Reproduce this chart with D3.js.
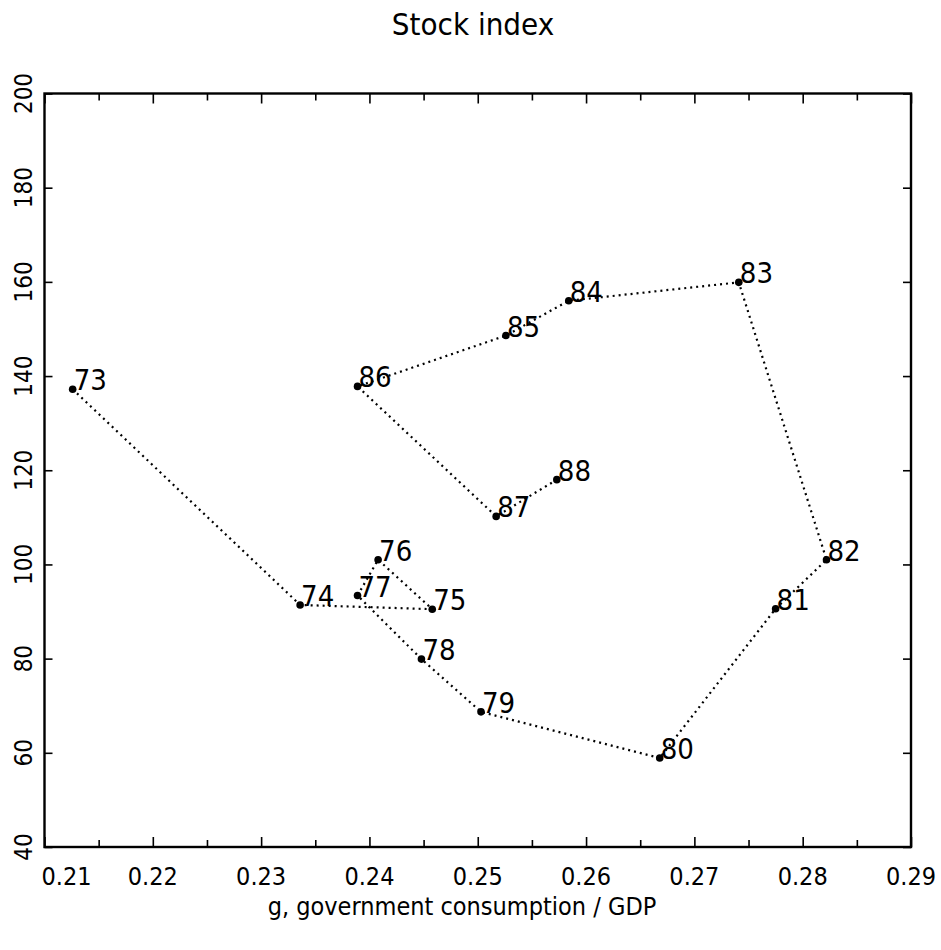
<!DOCTYPE html>
<html>
<head>
<meta charset="utf-8">
<script src="https://cdn.jsdelivr.net/npm/d3@7"></script>
<style>
  body { margin: 0; background: #fff; }
  .lbl { font-family: "Liberation Sans Narrow", "DejaVu Sans Condensed", "Liberation Sans", sans-serif; fill: #000; }
  .axis path { display: none; }
  .axis line { stroke: #000; stroke-width: 1.6; }
</style>
</head>
<body>
<div id="chart"></div>
<script>
// data
var years = ["73", "74", "75", "76", "77", "78", "79", "80", "81", "82", "83", "84", "85", "86", "87", "88"];
var govShare = [0.2126, 0.2336, 0.2458, 0.2408, 0.2389, 0.2448, 0.2503, 0.2668, 0.2775, 0.2822, 0.2741, 0.2584, 0.2526, 0.2389, 0.2517, 0.2573];
var stockIndex = [137.2, 91.4, 90.5, 101.0, 93.4, 79.9, 68.7, 58.9, 90.6, 101.0, 159.9, 156.0, 148.6, 137.8, 110.2, 118.0];

var xTicks = [0.21, 0.22, 0.23, 0.24, 0.25, 0.26, 0.27, 0.28, 0.29];
var xMinorTicks = [0.215, 0.225, 0.235, 0.245, 0.255, 0.265, 0.275, 0.285];
var yTicks = [40, 60, 80, 100, 120, 140, 160, 180, 200];

var svgWidth = 941;
var svgHeight = 950;

var margin = { top: 93.5, right: 30, bottom: 103, left: 44.5 };
var width = svgWidth - margin.left - margin.right;
var height = svgHeight - margin.top - margin.bottom;

var svg = d3.select("#chart")
    .append("svg")
    .attr("width", svgWidth)
    .attr("height", svgHeight)
    .style("background", "#fff");

var chart = svg.append("g")
    .attr("transform", `translate(${margin.left}, ${margin.top})`);

var x = d3.scaleLinear().domain([0.21, 0.29]).range([0, width]);
var y = d3.scaleLinear().domain([40, 200]).range([height, 0]);

var points = years.map(function(yr, i) {
  return { year: yr, g: govShare[i], s: stockIndex[i] };
});

// ticks, all pointing into the frame
chart.append("g").attr("class", "axis")
    .attr("transform", `translate(0, ${height})`)
    .call(d3.axisBottom(x).tickValues(xTicks).tickSize(-10).tickFormat(""));
chart.append("g").attr("class", "axis")
    .attr("transform", `translate(0, ${height})`)
    .call(d3.axisBottom(x).tickValues(xMinorTicks).tickSize(-7).tickFormat(""));
chart.append("g").attr("class", "axis")
    .call(d3.axisTop(x).tickValues(xTicks).tickSize(-10).tickFormat(""));
chart.append("g").attr("class", "axis")
    .call(d3.axisTop(x).tickValues(xMinorTicks).tickSize(-7).tickFormat(""));
chart.append("g").attr("class", "axis")
    .call(d3.axisLeft(y).tickValues(yTicks).tickSize(-8).tickFormat(""));
chart.append("g").attr("class", "axis")
    .attr("transform", `translate(${width}, 0)`)
    .call(d3.axisRight(y).tickValues(yTicks).tickSize(-8).tickFormat(""));

// frame
chart.append("rect")
    .attr("width", width)
    .attr("height", height)
    .attr("fill", "none")
    .attr("stroke", "#000")
    .attr("stroke-width", 2.4);

// x tick labels
chart.selectAll(".xlab")
    .data(xTicks)
    .enter()
    .append("text")
    .attr("class", "lbl")
    .attr("x", d => x(d) + (d === 0.21 ? 22 : 0))
    .attr("y", height + 38)
    .attr("text-anchor", "middle")
    .attr("font-size", "25px")
    .text(d => d3.format(".2f")(d));

// y tick labels, rotated
chart.selectAll(".ylab")
    .data(yTicks)
    .enter()
    .append("text")
    .attr("class", "lbl")
    .attr("transform", d => `translate(${32 - margin.left}, ${y(d)}) rotate(-90)`)
    .attr("text-anchor", "middle")
    .attr("font-family", "'Liberation Sans', sans-serif")
    .attr("font-size", "24px")
    .text(d => d);

// dotted path through the years
var line = d3.line().x(d => x(d.g)).y(d => y(d.s));
chart.append("path")
    .datum(points)
    .attr("d", line)
    .attr("fill", "none")
    .attr("stroke", "#000")
    .attr("stroke-width", 2.2)
    .attr("stroke-dasharray", "2,4");

chart.selectAll("circle")
    .data(points)
    .enter()
    .append("circle")
    .attr("cx", d => x(d.g))
    .attr("cy", d => y(d.s))
    .attr("r", 3.8)
    .attr("fill", "#000");

chart.selectAll(".yr")
    .data(points)
    .enter()
    .append("text")
    .attr("class", "lbl")
    .attr("x", d => x(d.g) + 1)
    .attr("y", d => y(d.s) + 1)
    .attr("font-size", "29px")
    .text(d => d.year);

// titles
svg.append("text")
    .attr("class", "lbl")
    .attr("x", 473)
    .attr("y", 35)
    .attr("text-anchor", "middle")
    .attr("font-size", "31px")
    .text("Stock index");

svg.append("text")
    .attr("class", "lbl")
    .attr("x", 462)
    .attr("y", 915)
    .attr("text-anchor", "middle")
    .attr("font-size", "25px")
    .text("g, government consumption / GDP");
</script>
</body>
</html>
